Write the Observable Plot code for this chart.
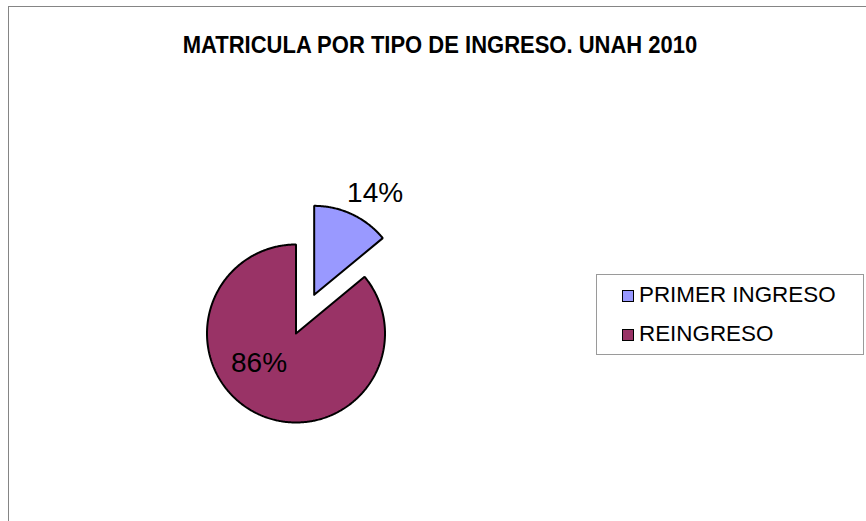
<!DOCTYPE html>
<html>
<head>
<meta charset="utf-8">
<script src="https://cdn.jsdelivr.net/npm/d3@7"></script>
<script src="https://cdn.jsdelivr.net/npm/@observablehq/plot@0.6"></script>
<style>
  html, body { margin: 0; padding: 0; background: #fff; }
  #wrap { position: relative; width: 866px; height: 521px; overflow: hidden; font-family: "Liberation Sans", Arial, sans-serif; }
  #frame { position: absolute; left: 8px; top: 6px; width: 1000px; height: 1000px; border-left: 1.5px solid #858585; border-top: 1.5px solid #858585; box-sizing: border-box; }
  #title { position: absolute; left: 0; top: 34.5px; width: 880px; text-align: center; font-weight: bold; font-size: 22px; line-height: 22px; color: #000; white-space: nowrap; transform: scaleY(1.06); transform-origin: 50% 80%; }
  #chart { position: absolute; left: 0; top: 0; }
  #legend { position: absolute; left: 596px; top: 274px; width: 268px; height: 81px; border: 1px solid #9a9a9a; box-sizing: border-box; background: #fff; }
  .item { position: absolute; left: 42px; font-size: 22.4px; line-height: 22px; color: #000; white-space: nowrap; }
  .sw { position: absolute; left: 25px; width: 12px; height: 12px; border: 1.5px solid #000; box-sizing: border-box; }
</style>
</head>
<body>
<div id="wrap">
  <div id="frame"></div>
  <div id="chart"></div>
  <div id="title"></div>
  <div id="legend"></div>
</div>
<script>
// ---- data ----
const title = "MATRICULA POR TIPO DE INGRESO. UNAH 2010";
const categories = ["PRIMER INGRESO", "REINGRESO"];
const values = [14, 86];
const labels = ["14%", "86%"];
const colors = ["#9999FF", "#993366"];

// ---- layout (pixels) ----
const W = 866, H = 521;
const cx = 295.5, cy = 333, R = 89;      // pie centre and radius in px
const explode = [0.48, 0];               // explosion as fraction of radius
const labelPolar = [[29.3, 1.816], [231, 0.535]]; // label angle (deg from top, clockwise) and distance (radius units)

document.getElementById("title").textContent = title;

// pie geometry from values
const arcs = d3.pie().sort(null).value(d => d)(values);
const slices = arcs.map((a, i) => {
  const mid = (a.startAngle + a.endAngle) / 2;
  const ox = explode[i] * Math.sin(mid), oy = explode[i] * Math.cos(mid);
  const n = Math.max(8, Math.ceil((a.endAngle - a.startAngle) / 0.01));
  const pts = [{x: ox, y: oy}];
  for (let k = 0; k <= n; k++) {
    const t = a.startAngle + (a.endAngle - a.startAngle) * k / n;
    pts.push({x: ox + Math.sin(t), y: oy + Math.cos(t)});
  }
  pts.push({x: ox, y: oy});
  return pts;
});
const labelData = labels.map((t, i) => {
  const ang = labelPolar[i][0] * Math.PI / 180, r = labelPolar[i][1];
  return {text: t, x: r * Math.sin(ang), y: r * Math.cos(ang)};
});

const chart = Plot.plot({
  width: W, height: H,
  margin: 0,
  x: {domain: [-cx / R, (W - cx) / R], axis: null},
  y: {domain: [-(H - cy) / R, cy / R], axis: null},
  marks: [
    ...slices.map((pts, i) => Plot.line(pts, {
      x: "x", y: "y", fill: colors[i], stroke: "#000", strokeWidth: 2, strokeLinejoin: "miter"
    })),
    Plot.text(labelData, {
      x: "x", y: "y", text: "text", fontSize: 28, fill: "#000",
      fontFamily: "Liberation Sans, Arial, sans-serif", textAnchor: "middle", lineAnchor: "middle"
    })
  ],
  style: {background: "transparent", overflow: "visible"}
});
document.getElementById("chart").appendChild(chart);

// legend
const legend = document.getElementById("legend");
categories.forEach((c, i) => {
  const sw = document.createElement("div");
  sw.className = "sw";
  sw.style.top = (15 + i * 39) + "px";
  sw.style.background = colors[i];
  legend.appendChild(sw);
  const tx = document.createElement("div");
  tx.className = "item";
  tx.style.top = (8.5 + i * 39.5) + "px";
  tx.textContent = c;
  legend.appendChild(tx);
});
</script>
</body>
</html>
